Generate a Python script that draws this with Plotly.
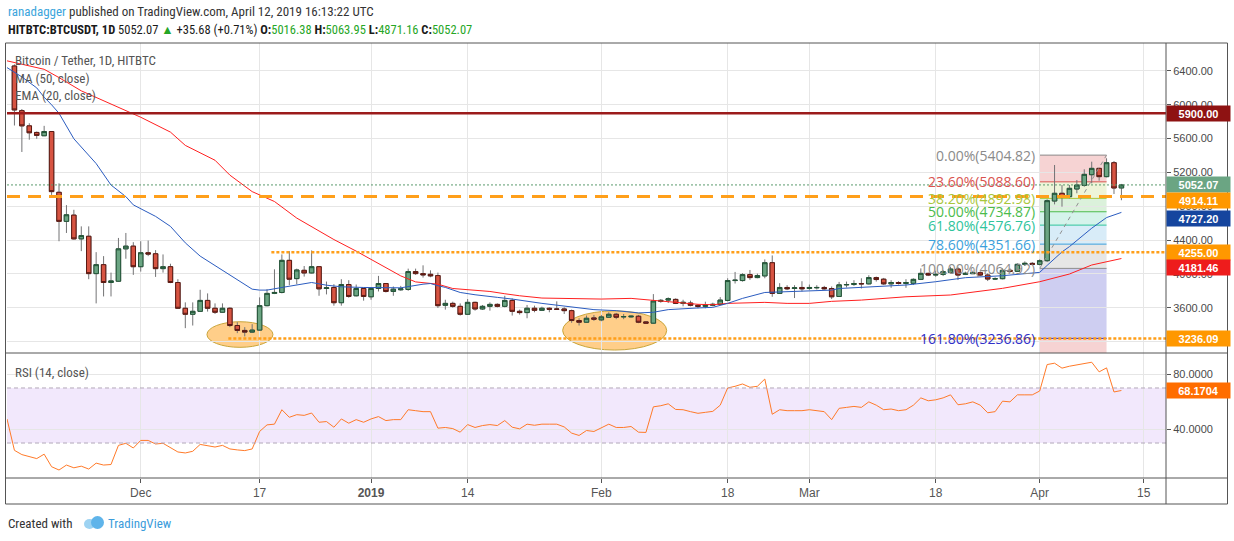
import plotly.graph_objects as go
import pandas as pd

# page geometry (pixels) used for placing the decorations
W, H = 1234, 541
ML, MR, MT, MB = 7, 68, 43, 63
PW, PH = W - ML - MR, H - MT - MB


def px(x):
    return (x - ML) / PW


def py(y):
    return (H - MB - y) / PH


SPLIT = py(353)
NARROW = "Roboto Condensed, Liberation Sans, sans-serif"
AXIS_FONT = "Liberation Sans, Arial, sans-serif"

# ---- daily candles, HITBTC BTCUSDT ----
dates = pd.date_range("2018-11-14", "2019-04-12", freq="D")

opens = [
    6459, 5931, 5751, 5673, 5634, 5684, 4965, 4621, 4695, 4414,
    4445, 4003, 4109, 3898, 3913, 4296, 4328, 4085, 4250, 4238,
    4062, 4085, 3898, 3593, 3522, 3557, 3686, 3593, 3546, 3593,
    3389, 3331, 3311, 3335, 3624, 3769, 3780, 4160, 3944, 4042,
    4011, 4085, 3827, 3839, 3659, 3874, 3741, 3827, 3729, 3827,
    3886, 3792, 3812, 3815, 4027, 4003, 3995, 3980, 3628, 3651,
    3616, 3522, 3663, 3585, 3616, 3639, 3616, 3686, 3557, 3542,
    3593, 3569, 3593, 3585, 3585, 3565, 3448, 3428, 3479, 3456,
    3487, 3522, 3491, 3491, 3499, 3432, 3417, 3675, 3690, 3698,
    3651, 3655, 3628, 3616, 3628, 3639, 3686, 3921, 3921, 3991,
    3956, 3976, 4132, 3769, 3839, 3827, 3839, 3827, 3835, 3839,
    3827, 3733, 3870, 3874, 3886, 3882, 3956, 3937, 3882, 3898,
    3886, 3888, 3935, 4006, 3986, 3994, 4018, 4057, 3994, 4002,
    4014, 3986, 3939, 3943, 4042, 4030, 4113, 4124, 4113, 4156,
    4862, 4953, 4913, 5004, 5047, 5173, 5248, 5150, 5315, 5016.38,
]
highs = [
    6478, 5950, 5782, 5684, 5751, 5688, 5071, 4813, 4758, 4562,
    4562, 4257, 4210, 4015, 4425, 4484, 4375, 4386, 4394, 4281,
    4230, 4120, 3937, 3663, 3663, 3812, 3769, 3651, 3651, 3604,
    3428, 3370, 3405, 3722, 3819, 4054, 4230, 4269, 4062, 4093,
    4277, 4093, 3909, 3878, 3937, 3925, 3874, 3839, 3835, 3976,
    3890, 3851, 3858, 4062, 4062, 4101, 4042, 4015, 3694, 3671,
    3651, 3702, 3671, 3632, 3663, 3651, 3741, 3710, 3577, 3632,
    3624, 3612, 3604, 3675, 3604, 3577, 3475, 3507, 3514, 3514,
    3546, 3538, 3526, 3507, 3514, 3440, 3761, 3702, 3722, 3710,
    3694, 3683, 3643, 3671, 3659, 3725, 3948, 4023, 4007, 4046,
    4003, 4171, 4218, 3890, 3866, 3866, 3913, 3874, 3866, 3858,
    3851, 3905, 3909, 3925, 3948, 3984, 3968, 3952, 3925, 3913,
    3937, 3947, 4065, 4014, 4038, 4046, 4085, 4085, 4026, 4038,
    4030, 4006, 3959, 4065, 4065, 4124, 4148, 4140, 4172, 4882,
    5288, 5051, 5051, 5110, 5237, 5327, 5256, 5367, 5335, 5063.95,
]
lows = [
    5755, 5442, 5587, 5598, 5630, 4934, 4386, 4484, 4406, 4269,
    3937, 3651, 3733, 3733, 3905, 4179, 3988, 4027, 4210, 3964,
    4015, 3890, 3585, 3358, 3389, 3554, 3554, 3526, 3538, 3370,
    3299, 3260, 3303, 3331, 3616, 3761, 3769, 3866, 3878, 3968,
    4005, 3741, 3757, 3624, 3624, 3718, 3733, 3683, 3694, 3792,
    3780, 3741, 3800, 3800, 3988, 3956, 3960, 3597, 3577, 3600,
    3507, 3514, 3565, 3573, 3565, 3604, 3604, 3507, 3518, 3475,
    3546, 3561, 3546, 3577, 3526, 3421, 3389, 3421, 3444, 3440,
    3479, 3464, 3464, 3483, 3417, 3409, 3409, 3659, 3655, 3643,
    3616, 3616, 3593, 3593, 3616, 3632, 3675, 3886, 3909, 3929,
    3948, 3948, 3729, 3769, 3808, 3714, 3792, 3812, 3815, 3812,
    3702, 3729, 3839, 3858, 3827, 3874, 3909, 3870, 3835, 3874,
    3835, 3868, 3927, 3974, 3966, 3974, 4006, 3927, 3986, 3998,
    3974, 3915, 3927, 3935, 4014, 4022, 4093, 4101, 4101, 4140,
    4822, 4795, 4893, 4953, 5031, 5071, 5102, 5142, 4945, 4871.16,
]
closes = [
    5939, 5751, 5669, 5638, 5684, 4973, 4621, 4699, 4414, 4453,
    4003, 4109, 3898, 3917, 4296, 4328, 4085, 4250, 4234, 4062,
    4085, 3898, 3593, 3522, 3557, 3686, 3593, 3546, 3593, 3389,
    3331, 3311, 3335, 3624, 3769, 3780, 4160, 3937, 4046, 4011,
    4085, 3823, 3835, 3659, 3874, 3733, 3827, 3733, 3827, 3886,
    3792, 3819, 3823, 4027, 4003, 3988, 3976, 3624, 3651, 3616,
    3522, 3663, 3585, 3616, 3639, 3616, 3686, 3557, 3542, 3593,
    3569, 3593, 3581, 3581, 3565, 3448, 3428, 3475, 3464, 3491,
    3522, 3487, 3495, 3499, 3428, 3417, 3679, 3686, 3706, 3651,
    3663, 3628, 3616, 3628, 3639, 3690, 3921, 3925, 3991, 3956,
    3980, 4132, 3769, 3839, 3823, 3835, 3823, 3839, 3839, 3823,
    3729, 3870, 3874, 3886, 3882, 3956, 3933, 3882, 3898, 3886,
    3898, 3935, 4006, 3986, 3994, 4026, 4057, 3986, 4006, 4014,
    3986, 3939, 3943, 4042, 4030, 4113, 4124, 4113, 4156, 4866,
    4953, 4913, 5012, 5051, 5177, 5248, 5150, 5315, 5016, 5052.07,
]

# ---- indicators ----
ema_dates = [
    "2018-11-13", "2018-11-15", "2018-11-17", "2018-11-18", "2018-11-19", "2018-11-20",
    "2018-11-22", "2018-11-25", "2018-11-27", "2018-11-29", "2018-11-30", "2018-12-03",
    "2018-12-05", "2018-12-07", "2018-12-09", "2018-12-12", "2018-12-14", "2018-12-16",
    "2018-12-17", "2018-12-18", "2018-12-20", "2018-12-22", "2018-12-24", "2018-12-26",
    "2018-12-28", "2018-12-31", "2019-01-02", "2019-01-05", "2019-01-08", "2019-01-09",
    "2019-01-10", "2019-01-11", "2019-01-13", "2019-01-15", "2019-01-18", "2019-01-20",
    "2019-01-24", "2019-01-28", "2019-01-31", "2019-02-03", "2019-02-06", "2019-02-08",
    "2019-02-10", "2019-02-14", "2019-02-16", "2019-02-18", "2019-02-20", "2019-02-23",
    "2019-02-25", "2019-03-01", "2019-03-04", "2019-03-05", "2019-03-09", "2019-03-12",
    "2019-03-14", "2019-03-18", "2019-03-22", "2019-03-27", "2019-04-01", "2019-04-02",
    "2019-04-04", "2019-04-05", "2019-04-07", "2019-04-08", "2019-04-10", "2019-04-11",
    "2019-04-12",
]
ema_values = [
    6440, 6330, 6200, 6090, 6000, 5900, 5598, 5305, 5051, 4914, 4816, 4680,
    4562, 4367, 4210, 4042, 3937, 3819, 3808, 3808, 3839, 3865, 3898, 3866,
    3847, 3839, 3835, 3835, 3878, 3886, 3860, 3840, 3780, 3753, 3722, 3702,
    3651, 3604, 3577, 3565, 3538, 3546, 3577, 3597, 3604, 3651, 3710, 3780,
    3788, 3800, 3808, 3827, 3847, 3858, 3868, 3907, 3955, 3978, 4018, 4100,
    4260, 4322, 4470, 4540, 4666, 4700, 4727.20,
]
ma_dates = [
    "2018-11-13", "2018-11-18", "2018-11-20", "2018-11-23", "2018-11-27", "2018-12-01",
    "2018-12-05", "2018-12-07", "2018-12-11", "2018-12-13", "2018-12-16", "2018-12-19",
    "2018-12-22", "2018-12-24", "2018-12-27", "2018-12-30", "2019-01-01", "2019-01-03",
    "2019-01-05", "2019-01-07", "2019-01-10", "2019-01-12", "2019-01-14", "2019-01-17",
    "2019-01-19", "2019-01-21", "2019-01-24", "2019-01-28", "2019-02-01", "2019-02-05",
    "2019-02-07", "2019-02-10", "2019-02-12", "2019-02-14", "2019-02-16", "2019-02-18",
    "2019-02-23", "2019-02-26", "2019-03-01", "2019-03-04", "2019-03-08", "2019-03-11",
    "2019-03-14", "2019-03-20", "2019-03-27", "2019-04-01", "2019-04-05", "2019-04-08",
    "2019-04-10", "2019-04-12",
]
ma_values = [
    6520, 6420, 6322, 6165, 6009, 5853, 5677, 5520, 5344, 5168,
    4973, 4856, 4660, 4560, 4406, 4269, 4171, 4074, 3976, 3905,
    3878, 3827, 3812, 3792, 3765, 3741, 3714, 3710, 3702, 3710,
    3694, 3671, 3651, 3640, 3635, 3651, 3663, 3651, 3651, 3675,
    3690, 3710, 3729, 3750, 3829, 3907, 3998, 4105, 4144, 4181.46,
]

rsi_dates = pd.date_range("2018-11-13", "2019-04-12", freq="D")
rsi_values = [
    47.5,
    24.7, 21.6, 20.0, 18.7, 21.9, 12.8, 10.4, 14.0, 12.0, 13.2,
    11.1, 15.4, 14.0, 14.4, 28.3, 29.8, 26.4, 31.9, 31.9, 29.3,
    29.8, 26.4, 23.5, 22.8, 24.0, 29.0, 27.8, 27.1, 28.3, 25.7,
    25.0, 24.5, 25.7, 38.4, 43.2, 43.7, 54.2, 48.7, 50.6, 50.1,
    51.8, 45.1, 45.6, 41.5, 47.5, 44.4, 47.0, 45.1, 47.5, 49.2,
    46.3, 47.0, 47.0, 54.2, 53.5, 52.8, 52.8, 40.8, 41.3, 40.5,
    37.9, 43.4, 41.3, 42.7, 43.4, 42.7, 46.3, 41.5, 40.3, 43.7,
    42.9, 43.7, 43.7, 43.7, 41.7, 37.2, 35.5, 39.1, 38.4, 41.0,
    43.7, 41.3, 41.3, 42.0, 37.9, 37.7, 56.3, 57.1, 58.5, 54.4,
    54.2, 52.8, 51.6, 52.3, 53.0, 57.5, 70.0, 71.2, 72.9, 70.5,
    71.2, 76.5, 50.9, 54.2, 53.5, 53.5, 53.5, 54.2, 53.7, 52.8,
    47.0, 55.2, 55.9, 56.6, 55.9, 59.9, 57.5, 54.2, 54.7, 53.5,
    54.2, 57.5, 62.8, 60.7, 61.4, 62.8, 65.0, 57.8, 58.5, 59.9,
    57.5, 52.0, 52.8, 60.4, 59.9, 65.0, 65.0, 65.0, 67.8, 87.0,
    88.0, 84.4, 85.8, 86.8, 88.2, 88.7, 81.7, 84.6, 67.1, 68.1704,
]

# ---- drawings ----
resistance = 5900.00
dashed_level = 4914.11
support_levels = [4255.00, 3236.09]
support_starts = ["2018-12-18 14:00", "2018-12-12 19:00"]

fib_start, fib_end = "2019-04-01", "2019-04-10"
fib_names = ["0.00%", "23.60%", "38.20%", "50.00%", "61.80%", "78.60%", "100.00%", "161.80%", "261.80%"]
fib_levels = [5404.82, 5088.60, 4892.98, 4734.87, 4576.76, 4351.66, 4064.92, 3236.86, 1897.06]
fib_colors = ["#8a8a8a", "#d9534f", "#a9c63c", "#4cbb4c", "#2fc49c", "#3c9fdb", "#8c8c8c", "#3030c8", "#d9534f"]
fib_fills = ["rgba(220,80,80,0.25)", "rgba(169,198,60,0.2)", "rgba(76,187,76,0.2)",
             "rgba(47,196,156,0.2)", "rgba(60,159,219,0.2)", "rgba(140,140,140,0.22)",
             "rgba(60,60,200,0.25)", "rgba(220,80,80,0.25)"]

ellipses = [
    ("2018-12-09 22:00", "2018-12-18 19:00", 3131, 3434),
    ("2019-01-26 19:00", "2019-02-09 19:00", 3099, 3562),
]

tick_dates = ["2018-12-01", "2018-12-17", "2019-01-01", "2019-01-14", "2019-02-01",
              "2019-02-18", "2019-03-01", "2019-03-18", "2019-04-01", "2019-04-15"]
tick_text = ["Dec", "17", "<b>2019</b>", "14", "Feb", "18", "Mar", "18", "Apr", "15"]
price_ticks = [3200, 3600, 4000, 4400, 4800, 5200, 5600, 6000, 6400]

fig = go.Figure()

# wicks (grey) underneath, bodies with dark outline on top
fig.add_trace(go.Candlestick(
    x=dates, open=opens, high=highs, low=lows, close=closes,
    increasing=dict(line=dict(color="#737375", width=1), fillcolor="#6BA583"),
    decreasing=dict(line=dict(color="#737375", width=1), fillcolor="#D75442"),
    whiskerwidth=0, hoverinfo="skip", showlegend=False,
))
body_low = [min(o, c) for o, c in zip(opens, closes)]
body_high = [max(o, c) for o, c in zip(opens, closes)]
fig.add_trace(go.Candlestick(
    x=dates, open=opens, high=body_high, low=body_low, close=closes,
    increasing=dict(line=dict(color="#225437", width=1), fillcolor="#6BA583"),
    decreasing=dict(line=dict(color="#5B1A13", width=1), fillcolor="#D75442"),
    whiskerwidth=0, hoverinfo="skip", showlegend=False,
))

fig.add_trace(go.Scatter(x=ma_dates, y=ma_values, mode="lines",
                         line=dict(color="#FF2020", width=1), hoverinfo="skip", showlegend=False))
fig.add_trace(go.Scatter(x=ema_dates, y=ema_values, mode="lines",
                         line=dict(color="#2B5CC0", width=1), hoverinfo="skip", showlegend=False))

fig.add_trace(go.Scatter(x=rsi_dates, y=rsi_values, mode="lines", xaxis="x2", yaxis="y2",
                         line=dict(color="#FF7A29", width=1), hoverinfo="skip", showlegend=False))

# fibonacci bands, lines and labels
for i in range(len(fib_fills)):
    fig.add_shape(type="rect", xref="x", yref="y", x0=fib_start, x1=fib_end,
                  y0=fib_levels[i + 1], y1=fib_levels[i], fillcolor=fib_fills[i],
                  line=dict(width=0), layer="below")
for name, lvl, col in zip(fib_names[:-1], fib_levels[:-1], fib_colors[:-1]):
    fig.add_shape(type="line", xref="x", yref="y", x0=fib_start, x1=fib_end, y0=lvl, y1=lvl,
                  line=dict(color=col, width=1), layer="below")
    fig.add_annotation(x=fib_start, y=lvl, xref="x", yref="y", xanchor="right", yanchor="middle",
                       xshift=-3, text=f"{name}({lvl:.2f})", showarrow=False,
                       font=dict(family="Open Sans", size=14, color=col))
fig.add_shape(type="line", xref="x", yref="y", x0=fib_start, x1=fib_end,
              y0=fib_levels[6], y1=fib_levels[0], line=dict(color="#909090", width=1, dash="4px,4px"))

# ellipses around the two lows
for x0, x1, y0, y1 in ellipses:
    fig.add_shape(type="circle", xref="x", yref="y", x0=x0, x1=x1, y0=y0, y1=y1,
                  fillcolor="rgba(255,165,40,0.55)", line=dict(color="#C9A53A", width=1), layer="below")

# horizontal levels
fig.add_shape(type="line", xref="paper", yref="y", x0=0, x1=1, y0=resistance, y1=resistance,
              line=dict(color="#9B1B1B", width=2.5))
fig.add_shape(type="line", xref="paper", yref="y", x0=0, x1=1, y0=dashed_level, y1=dashed_level,
              line=dict(color="#FF9F1A", width=3, dash="13px,8px"))
fig.add_shape(type="line", xref="paper", yref="y", x0=0, x1=1, y0=closes[-1], y1=closes[-1],
              line=dict(color="#5A9A6E", width=1, dash="2px,2px"))
for lvl, start in zip(support_levels, support_starts):
    fig.add_shape(type="line", xref="x", yref="y", x0=start, x1="2019-04-30", y0=lvl, y1=lvl,
                  line=dict(color="#FF9F1A", width=2.5, dash="3px,2px"))

# RSI band
fig.add_shape(type="rect", xref="paper", yref="y2", x0=0, x1=1, y0=30, y1=70,
              fillcolor="rgba(180,120,240,0.17)", line=dict(width=0), layer="below")
for lvl in (30, 70):
    fig.add_shape(type="line", xref="paper", yref="y2", x0=0, x1=1, y0=lvl, y1=lvl,
                  line=dict(color="#B3A9BA", width=1, dash="4px,3px"))

# frame
frame = dict(color="#555555", width=1)
fig.add_shape(type="rect", xref="paper", yref="paper", x0=px(5.5), x1=px(1227.5),
              y0=py(504), y1=py(43), line=frame)
fig.add_shape(type="line", xref="paper", yref="paper", x0=1, x1=1, y0=py(504), y1=py(43), line=frame)
fig.add_shape(type="line", xref="paper", yref="paper", x0=px(5.5), x1=px(1227.5), y0=0, y1=0, line=frame)
fig.add_shape(type="line", xref="paper", yref="paper", x0=px(5.5), x1=px(1227.5),
              y0=SPLIT, y1=SPLIT, line=frame)


def tag(y, value, bg, yref="y", fmt="{:.2f}", shift=0):
    # price-axis label; shift nudges it down like TradingView does to avoid overlaps
    fig.add_annotation(x=1, xref="paper", xanchor="left", y=y, yref=yref, yanchor="middle",
                       yshift=shift, text="<b>" + fmt.format(value) + "</b>", showarrow=False,
                       bgcolor=bg, font=dict(color="white", size=11, family=AXIS_FONT),
                       width=59, height=11, borderpad=2, align="center")


tag(resistance, resistance, "#8E1212")
tag(closes[-1], closes[-1], "#6BA583")
tag(dashed_level, dashed_level, "#FF9800", shift=-4)
tag(ema_values[-1], ema_values[-1], "#15459E", shift=-6)
tag(support_levels[0], support_levels[0], "#FF9800")
tag(ma_values[-1], ma_values[-1], "#EE1C1C", shift=-9)
tag(support_levels[1], support_levels[1], "#FF9800")
tag(rsi_values[-1], rsi_values[-1], "#FF6D00", yref="y2", fmt="{:.4f}")

# header and pane titles
green = "#26A626"
fig.add_annotation(xref="paper", yref="paper", x=px(6), y=py(11), xanchor="left", yanchor="middle",
                   showarrow=False, font=dict(family=NARROW, size=13, color="#333333"),
                   text="<span style='color:#3BA5DC'>ranadagger</span> published on TradingView.com, "
                        "April 12, 2019 16:13:22 UTC")
fig.add_annotation(xref="paper", yref="paper", x=px(6), y=py(29), xanchor="left", yanchor="middle",
                   showarrow=False, font=dict(family=NARROW, size=12.5, color="#1A1A1A"),
                   text=f"<b>HITBTC:BTCUSDT, 1D</b> 5052.07 <span style='color:{green}'>▲</span> "
                        f"+35.68 (+0.71%) <b>O:</b><span style='color:{green}'>5016.38</span> "
                        f"<b>H:</b><span style='color:{green}'>5063.95</span> "
                        f"<b>L:</b><span style='color:{green}'>4871.16</span> "
                        f"<b>C:</b><span style='color:{green}'>5052.07</span>")
for text, ypix in [("Bitcoin / Tether, 1D, HITBTC", 60), ("MA (50, close)", 78),
                   ("EMA (20, close)", 95), ("RSI (14, close)", 372)]:
    fig.add_annotation(xref="paper", yref="paper", x=px(13), y=py(ypix), xanchor="left",
                       yanchor="middle", showarrow=False, text=text,
                       font=dict(family=NARROW, size=13, color="#555555"))
fig.add_annotation(xref="paper", yref="paper", x=px(6), y=py(523), xanchor="left", yanchor="middle",
                   showarrow=False, font=dict(family=NARROW, size=13, color="#333333"),
                   text="Created with")
fig.add_annotation(xref="paper", yref="paper", x=px(106), y=py(523), xanchor="left", yanchor="middle",
                   showarrow=False, font=dict(family=NARROW, size=13, color="#3C9CDB"),
                   text="TradingView")
# little cloud logo
fig.add_shape(type="circle", xref="paper", yref="paper", x0=px(84), x1=px(95), y0=py(529), y1=py(519),
              fillcolor="#9ED3F2", line=dict(width=0))
fig.add_shape(type="circle", xref="paper", yref="paper", x0=px(91), x1=px(104), y0=py(529), y1=py(516),
              fillcolor="#5FB4EA", line=dict(width=0))

grid = "#E6E6E6"
fig.update_layout(
    width=W, height=H, margin=dict(l=ML, r=MR, t=MT, b=MB),
    paper_bgcolor="white", plot_bgcolor="white", showlegend=False, hovermode=False,
    boxgap=0.4, boxgroupgap=0,
    xaxis=dict(domain=[0, 1], anchor="y", type="date", range=["2018-11-13", "2019-04-18"],
               tickvals=tick_dates, showticklabels=False, gridcolor=grid, showline=False,
               zeroline=False, rangeslider=dict(visible=False)),
    xaxis2=dict(domain=[0, 1], anchor="y2", type="date", range=["2018-11-13", "2019-04-18"],
                matches="x", tickvals=tick_dates, ticktext=tick_text, gridcolor=grid,
                ticks="outside", ticklen=4, tickcolor="#555555", showline=False, zeroline=False,
                tickfont=dict(family=AXIS_FONT, size=12, color="#555555")),
    yaxis=dict(domain=[SPLIT, 1], anchor="x", side="right", range=[3064, 6731],
               tickvals=price_ticks, tickformat=".2f", gridcolor=grid, zeroline=False,
               ticks="outside", ticklen=4, tickcolor="#555555",
               tickfont=dict(family=AXIS_FONT, size=11, color="#4A4A4A")),
    yaxis2=dict(domain=[0, SPLIT], anchor="x2", side="right", range=[4.6, 95.4],
                tickvals=[40, 80], tickformat=".4f", gridcolor=grid, zeroline=False,
                ticks="outside", ticklen=4, tickcolor="#555555",
                tickfont=dict(family=AXIS_FONT, size=11, color="#4A4A4A")),
)

# drop the browser's default 8px page margin so the chart sits at the window corner
fig.write_html("out.html", config={"displayModeBar": False},
               post_script="document.body.style.margin='0px';")
